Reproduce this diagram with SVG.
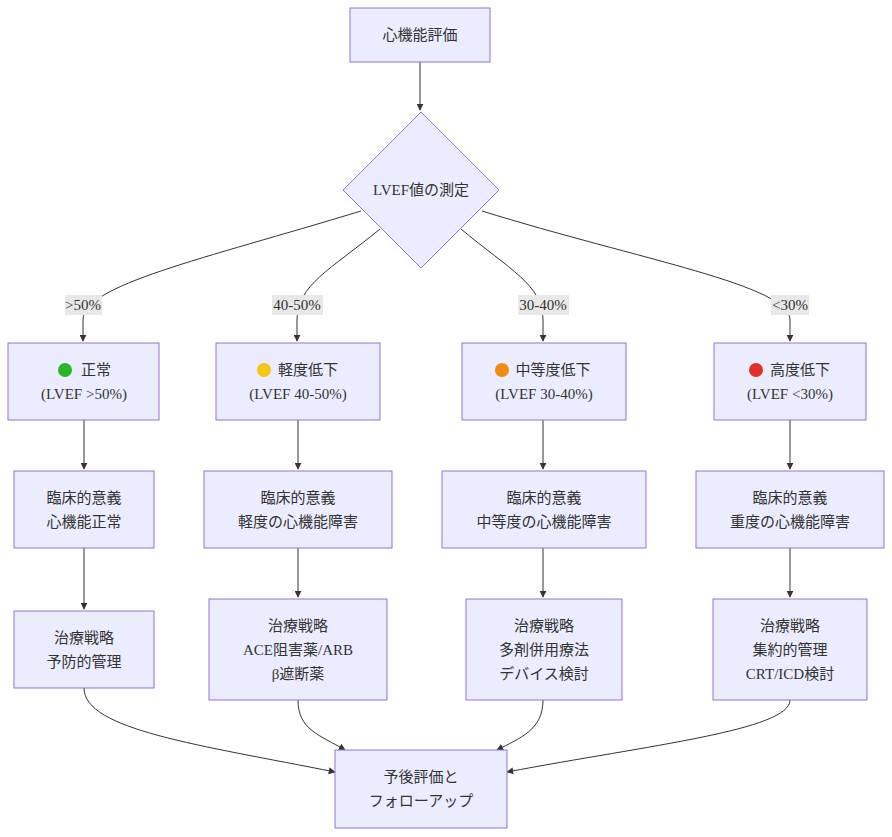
<svg xmlns="http://www.w3.org/2000/svg" width="892" height="837" viewBox="0 0 892 837">
<defs>
<style>
.n{fill:#ECECFF;stroke:#9370DB;stroke-width:1}
.t{font-family:"Liberation Serif","Noto Sans CJK JP",serif;font-size:15px;fill:#333;text-anchor:middle}
.e{fill:none;stroke:#333;stroke-width:1;marker-end:url(#a)}
.lb{fill:#e8e8e8}
</style>
<marker id="a" viewBox="0 0 10 10" refX="9" refY="5" markerWidth="7" markerHeight="7" orient="auto"><path d="M0,0L10,5L0,10z" fill="#333"/></marker>
</defs>
<rect width="892" height="837" fill="#fff"/>
<g id="edges">
<path class="e" d="M420,62L420,110"/>
<path class="e" d="M361,211C200,260 83,285 83,320L83,341"/>
<path class="e" d="M380,229C330,270 297,285 297,320L297,341"/>
<path class="e" d="M461,229C510,270 543,285 543,320L543,341"/>
<path class="e" d="M482,211C640,260 790,285 790,320L790,341"/>
<path class="e" d="M84,420L84,469"/><path class="e" d="M298,420L298,469"/><path class="e" d="M543,420L543,469"/><path class="e" d="M790,420L790,469"/>
<path class="e" d="M84,548L84,609"/><path class="e" d="M298,548L298,597"/><path class="e" d="M543,548L543,597"/><path class="e" d="M790,548L790,597"/>
<path class="e" d="M84,688C84,730 200,745 335,772"/>
<path class="e" d="M298,700C298,730 320,735 345,750"/>
<path class="e" d="M543,700C543,730 520,738 497,750"/>
<path class="e" d="M790,700C790,730 650,745 507,772"/>
<rect class="lb" x="65" y="295" width="37" height="20"/><text class="t" x="83" y="310">&gt;50%</text>
<rect class="lb" x="272" y="295" width="51" height="20"/><text class="t" x="297" y="310">40-50%</text>
<rect class="lb" x="518" y="295" width="51" height="20"/><text class="t" x="543" y="310">30-40%</text>
<rect class="lb" x="771" y="295" width="38" height="20"/><text class="t" x="790" y="310">&lt;30%</text>
</g>
<g id="start"><rect class="n" x="350" y="8" width="140" height="54"/><text class="t" x="420" y="40">心機能評価</text></g>
<g id="lvef"><path class="n" d="M421,112L499,190L421,268L343,190z"/><text class="t" x="421" y="195">LVEF値の測定</text></g>
<g id="a1"><rect class="n" x="8" y="343" width="151" height="77"/><circle cx="65" cy="370" r="7" fill="#2bb52b"/><text class="t" x="96" y="375">正常</text><text class="t" x="84" y="399">(LVEF &gt;50%)</text></g>
<g id="b1"><rect class="n" x="216" y="343" width="164" height="77"/><circle cx="264" cy="370" r="7" fill="#f5c518"/><text class="t" x="308" y="375">軽度低下</text><text class="t" x="298" y="399">(LVEF 40-50%)</text></g>
<g id="c1"><rect class="n" x="462" y="343" width="164" height="77"/><circle cx="502" cy="370" r="7" fill="#f08a10"/><text class="t" x="553" y="375">中等度低下</text><text class="t" x="544" y="399">(LVEF 30-40%)</text></g>
<g id="d1"><rect class="n" x="714" y="343" width="152" height="77"/><circle cx="756" cy="370" r="7" fill="#e0302a"/><text class="t" x="800" y="375">高度低下</text><text class="t" x="790" y="399">(LVEF &lt;30%)</text></g>
<g id="a2"><rect class="n" x="14" y="471" width="140" height="77"/><text class="t" x="84" y="503">臨床的意義</text><text class="t" x="84" y="527">心機能正常</text></g>
<g id="b2"><rect class="n" x="204" y="471" width="188" height="77"/><text class="t" x="298" y="503">臨床的意義</text><text class="t" x="298" y="527">軽度の心機能障害</text></g>
<g id="c2"><rect class="n" x="442" y="471" width="204" height="77"/><text class="t" x="544" y="503">臨床的意義</text><text class="t" x="544" y="527">中等度の心機能障害</text></g>
<g id="d2"><rect class="n" x="696" y="471" width="188" height="77"/><text class="t" x="790" y="503">臨床的意義</text><text class="t" x="790" y="527">重度の心機能障害</text></g>
<g id="a3"><rect class="n" x="14" y="611" width="140" height="77"/><text class="t" x="84" y="643">治療戦略</text><text class="t" x="84" y="667">予防的管理</text></g>
<g id="b3"><rect class="n" x="209" y="599" width="178" height="101"/><text class="t" x="298" y="631">治療戦略</text><text class="t" x="298" y="655">ACE阻害薬/ARB</text><text class="t" x="298" y="679">β遮断薬</text></g>
<g id="c3"><rect class="n" x="466" y="599" width="156" height="101"/><text class="t" x="544" y="631">治療戦略</text><text class="t" x="544" y="655">多剤併用療法</text><text class="t" x="544" y="679">デバイス検討</text></g>
<g id="d3"><rect class="n" x="713" y="599" width="154" height="101"/><text class="t" x="790" y="631">治療戦略</text><text class="t" x="790" y="655">集約的管理</text><text class="t" x="790" y="679">CRT/ICD検討</text></g>
<g id="end"><rect class="n" x="335" y="750" width="172" height="78"/><text class="t" x="421" y="782">予後評価と</text><text class="t" x="421" y="806">フォローアップ</text></g>
</svg>
